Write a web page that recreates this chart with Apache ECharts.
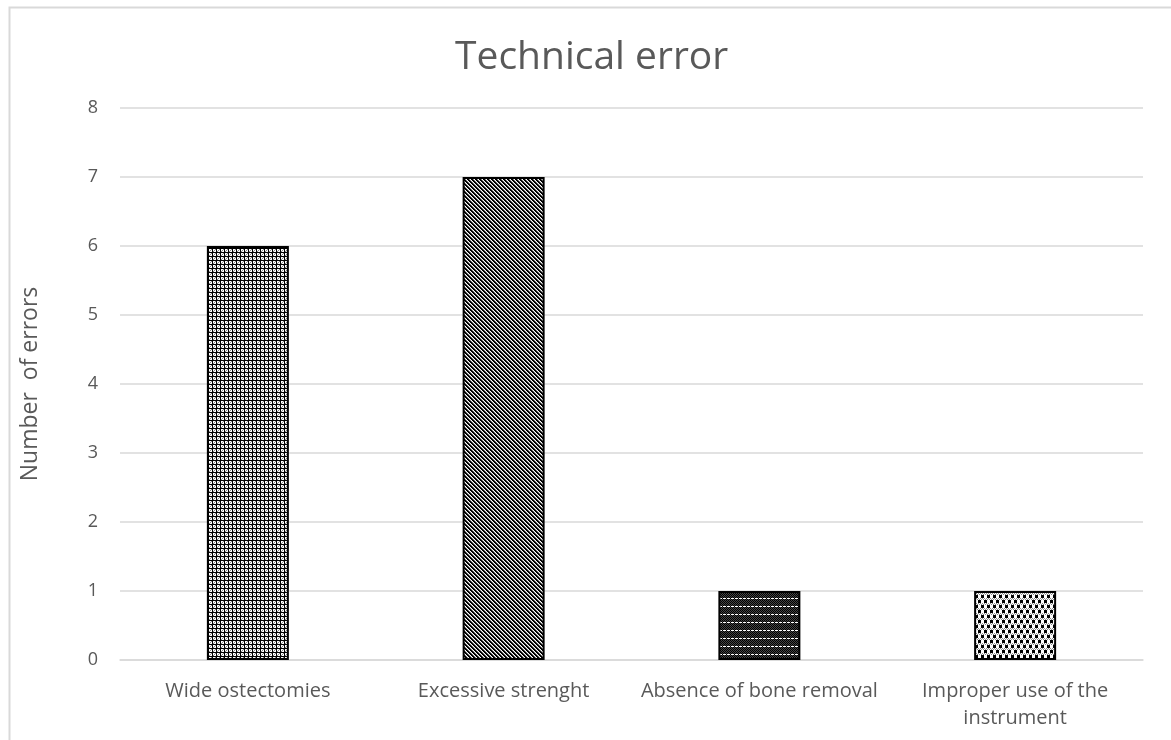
<!DOCTYPE html>
<html>
<head>
<meta charset="utf-8">
<script src="https://cdn.jsdelivr.net/npm/echarts@6/dist/echarts.min.js"></script>
<style>
  html, body { margin: 0; padding: 0; background: #fff; }
  #chart { width: 1171px; height: 740px; }
</style>
</head>
<body>
<div id="chart"></div>
<script>
const categories = ['Wide ostectomies', 'Excessive strenght', 'Absence of bone removal', 'Improper use of the\ninstrument'];
const errorCounts = [6, 7, 1, 1];
const yTicks = [0, 1, 2, 3, 4, 5, 6, 7, 8];

// small pixel tiles used as fill patterns (0 white, 1 black, 2 gray, 3 dark gray)
function makeTile(rows) {
  const h = rows.length, w = rows[0].length;
  const c = document.createElement('canvas');
  c.width = w; c.height = h;
  const ctx = c.getContext('2d');
  const cols = { '0': '#ffffff', '1': '#000000', '2': '#8c8c8c', '3': '#444444' };
  for (let y = 0; y < h; y++) {
    for (let x = 0; x < w; x++) {
      ctx.fillStyle = cols[rows[y][x]];
      ctx.fillRect(x, y, 1, 1);
    }
  }
  return c;
}

const gridTile = makeTile([
  '1111',
  '1002',
  '1020',
  '1200'
]);
const diagTile = makeTile([
  '1120',
  '0112',
  '2011',
  '1201'
]);
const darkTile = makeTile([
  '13131313',
  '31313131',
  '13131313',
  '31313131',
  '13131313',
  '31313131',
  '00100010',
  '31313131'
]);
const checkTile = makeTile([
  '111000',
  '111000',
  '111000',
  '202020',
  '020202',
  '000111',
  '000111',
  '000111',
  '202020',
  '020202'
]);
const tiles = [gridTile, diagTile, darkTile, checkTile];

const chart = echarts.init(document.getElementById('chart'));
chart.setOption({
  backgroundColor: '#fff',
  animation: false,
  title: {
    text: 'Technical error', left: 450, top: 33,
    textStyle: { fontFamily: 'Open Sans', fontSize: 39, fontWeight: 400, color: '#595959' }
  },
  graphic: [{
    type: 'rect', shape: { x: 9.5, y: 7.5, width: 1170, height: 760 },
    style: { fill: 'none', stroke: '#d9d9d9', lineWidth: 2 }, silent: true
  }],
  grid: { left: 120, right: 28, top: 108, bottom: 80 },
  xAxis: {
    type: 'category', data: categories,
    axisLine: { lineStyle: { color: '#d9d9d9', width: 1.5 } },
    axisTick: { show: false },
    axisLabel: { fontFamily: 'Open Sans', fontSize: 20, color: '#595959', margin: 18, lineHeight: 27, interval: 0 }
  },
  yAxis: {
    type: 'value', min: yTicks[0], max: yTicks[yTicks.length - 1], interval: 1,
    name: 'Number  of errors', nameLocation: 'middle', nameGap: 78, nameRotate: 90,
    nameTextStyle: { fontFamily: 'Open Sans', fontSize: 23, color: '#595959' },
    axisLine: { show: false }, axisTick: { show: false },
    axisLabel: { fontFamily: 'Open Sans', fontSize: 18, color: '#595959', margin: 22 },
    splitLine: { lineStyle: { color: '#d9d9d9', width: 1.5 } }
  },
  series: [{
    type: 'bar', barWidth: 82,
    data: errorCounts.map((v, i) => ({
      value: v,
      itemStyle: { color: { image: tiles[i], repeat: 'repeat' }, borderColor: '#000', borderWidth: 2 }
    }))
  }]
});
</script>
</body>
</html>
